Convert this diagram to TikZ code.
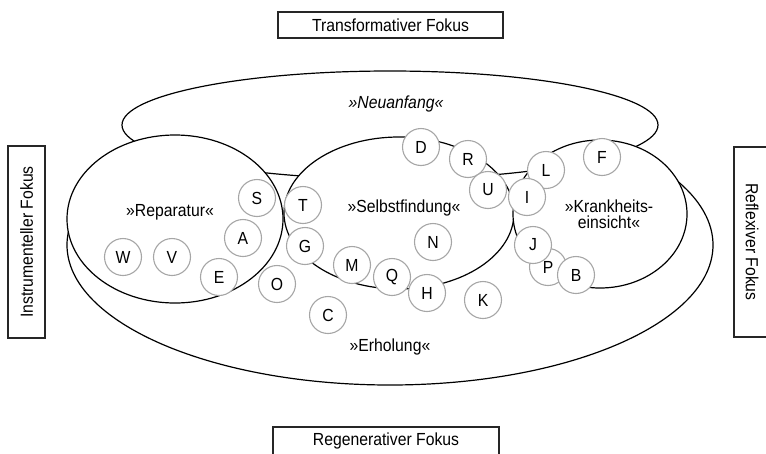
\documentclass[tikz,border=0pt]{standalone}
\usepackage{fontspec}
\setmainfont[FakeStretch=0.9]{Liberation Sans}
\begin{document}
\begin{tikzpicture}[x=1pt,y=-1pt,
  fokusbox/.style={draw=black!85, line width=1.1pt, fill=white},
  fokustext/.style={font=\fontsize{17.5}{17.5}\selectfont, inner sep=0pt},
  setline/.style={draw=black, line width=1.2pt, fill=white},
  setlabel/.style={font=\fontsize{17.5}{16}\selectfont, inner sep=0pt, align=center},
  letterc/.style={circle, draw=black!35, fill=white, line width=1.1pt, minimum size=37pt, inner sep=0pt, font=\fontsize{17.5}{17.5}\selectfont}]
\path[use as bounding box] (0,0) rectangle (766,453);
\clip (0,0) rectangle (766,453);
\fill[white] (0,0) rectangle (766,453);

% focus boxes
\draw[fokusbox] (278,12) rectangle (503,38);
\node[fokustext] (trans) at (390.5,25) {Transformativer Fokus};
\draw[fokusbox] (273,427) rectangle (499,470);
\node[fokustext] (regen) at (386,441) {Regenerativer Fokus};
\draw[fokusbox] (8,146) rectangle (45,338);
\node[fokustext, rotate=90] (instr) at (26.5,242) {Instrumenteller Fokus};
\draw[fokusbox] (734,147) rectangle (790,337);
\node[fokustext, rotate=-90] (refl) at (752,242) {Reflexiver Fokus};

% sets
\draw[setline] (390,245) ellipse [x radius=323pt, y radius=140pt];
\draw[setline] (390,125) ellipse [x radius=268pt, y radius=54pt];
\draw[setline] (175,219) ellipse [x radius=108pt, y radius=84pt];
\draw[setline] (399,213) ellipse [x radius=115pt, y radius=76pt];
\draw[setline] (600,214) ellipse [x radius=87pt, y radius=74pt];

\node[setlabel, font=\fontsize{17.5}{17.5}\selectfont\itshape] (neu) at (396,104) {»Neuanfang«};
\node[setlabel] (rep) at (170,212) {»Reparatur«};
\node[setlabel] (selbst) at (404,208) {»Selbstfindung«};
\node[setlabel] (krank) at (609,214) {»Krankheits-\\einsicht«};
\node[setlabel] (erh) at (390,347) {»Erholung«};

% cases
\node[letterc] (D) at (421,147) {D};
\node[letterc] (R) at (468,159) {R};
\node[letterc] (U) at (488,190) {U};
\node[letterc] (L) at (546,170) {L};
\node[letterc] (I) at (527,197) {I};
\node[letterc] (F) at (602,157) {F};
\node[letterc] (S) at (257,198) {S};
\node[letterc] (T) at (303,205) {T};
\node[letterc] (A) at (243,238) {A};
\node[letterc] (G) at (305,246) {G};
\node[letterc] (W) at (123,257) {W};
\node[letterc] (V) at (172,257) {V};
\node[letterc] (E) at (219,277) {E};
\node[letterc] (O) at (277,284) {O};
\node[letterc] (M) at (352,265) {M};
\node[letterc] (Q) at (392,277) {Q};
\node[letterc] (H) at (427,293) {H};
\node[letterc] (N) at (433,242) {N};
\node[letterc] (K) at (483,300) {K};
\node[letterc] (C) at (328,315) {C};
\node[letterc] (P) at (548,267) {P};
\node[letterc] (J) at (533,245) {J};
\node[letterc] (B) at (576,275) {B};
\end{tikzpicture}
\end{document}
